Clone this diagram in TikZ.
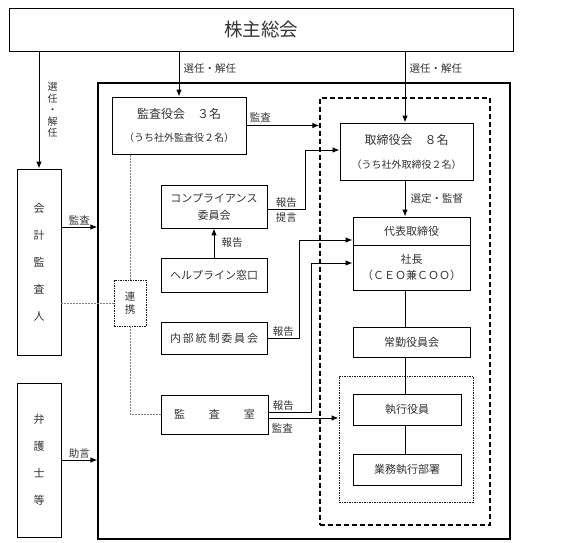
\documentclass[tikz,border=0pt]{standalone}
\usepackage{fontspec}
\setmainfont{Noto Sans CJK JP}
\usetikzlibrary{arrows.meta}
\definecolor{txt}{gray}{0.2}

\begin{document}
\begin{tikzpicture}[x=1pt,y=-1pt,>={Latex[length=7pt,width=5.5pt]},
  box/.style={draw,line width=0.8pt,inner sep=0pt,align=center,text=txt,font=\fontsize{11}{14}\selectfont},
  lab/.style={inner sep=1pt,text=txt,font=\fontsize{10.5}{12}\selectfont},
  arr/.style={->,line width=1pt},
  link/.style={draw=gray,line width=0.6pt,dash pattern=on 2pt off 1pt}]
\useasboundingbox (0,0) rectangle (562,543);
\coordinate (vline) at (405,0);
\node[box,minimum width=504pt,minimum height=43pt,font=\fontsize{18.5}{20}\selectfont] (soukai) at (261,29.5) {株主総会};
\node[draw,line width=1.2pt,minimum width=412pt,minimum height=456pt] (gaibu) at (304,311) {};
\node[draw,line width=1.2pt,dash pattern=on 5pt off 3pt,minimum width=170pt,minimum height=427pt] (board) at (405,311.5) {};
\node[draw,line width=0.8pt,draw=black!90,dash pattern=on 1.5pt off 1pt,minimum width=134pt,minimum height=126pt] (shikkou) at (406,439) {};
\node[box,minimum width=134pt,minimum height=57pt,font=\fontsize{12}{23}\selectfont] (kansayaku) at (179,125.5) {監査役会　３名\\{\fontsize{10}{12}\selectfont （うち社外監査役２名）}};
\node[box,minimum width=133pt,minimum height=57pt,font=\fontsize{12}{24}\selectfont] (torishimari) at (406.5,151.5) {取締役会　８名\\{\fontsize{10}{12}\selectfont （うち社外取締役２名）}};
\node[box,minimum width=117pt,minimum height=28pt] (daihyo) at (411.5,231) {代表取締役};
\node[box,minimum width=117pt,minimum height=45pt,font=\fontsize{11}{16}\selectfont] (shacho) at (411.5,267.5) {社長\\（ＣＥＯ兼ＣＯＯ）};
\node[box,minimum width=117pt,minimum height=30pt] (joukin) at (411.5,342) {常勤役員会};
\node[box,minimum width=108pt,minimum height=31pt] (shikko) at (407,409.5) {執行役員};
\node[box,minimum width=108pt,minimum height=31pt] (gyomu) at (407,469.5) {業務執行部署};
\node[box,minimum width=106pt,minimum height=43pt,font=\fontsize{11}{17}\selectfont] (compliance) at (214,206.5) {コンプライアンス\\委員会};
\node[box,minimum width=106pt,minimum height=34pt] (helpline) at (214,275) {ヘルプライン窓口};
\node[box,minimum width=106pt,minimum height=32pt] (naibu) at (214,338) {内\,部\,統\,制\,委\,員\,会};
\node[box,minimum width=107pt,minimum height=39pt] (kansashitsu) at (214.5,414.5) {監\hspace{24pt}査\hspace{24pt}室};
\node[box,minimum width=44pt,minimum height=186pt,font=\fontsize{11}{27}\selectfont] (kaikei) at (39,262) {会\\計\\監\\査\\人};
\node[box,minimum width=44pt,minimum height=154pt,font=\fontsize{11}{27}\selectfont] (bengoshi) at (39,460) {弁\\護\\士\\等};
\node[box,draw=black!90,dash pattern=on 1.5pt off 1pt,minimum width=32pt,minimum height=46pt,font=\fontsize{10.5}{12.5}\selectfont] (renkei) at (130,303) {連\\携};
\draw[arr] (soukai.south -| kaikei) -- (kaikei.north) node[lab,midway,right=7pt,align=center,font=\fontsize{10}{11.5}\selectfont]{選\\任\\・\\解\\任};
\draw[arr] (soukai.south -| kansayaku) -- (kansayaku.north) node[lab,pos=0.37,right=3pt]{選任・解任};
\draw[arr] (soukai.south -| vline) -- (torishimari.north -| vline) node[lab,pos=0.24,right=3pt]{選任・解任};
\draw[arr] (kansayaku.east) -- (kansayaku.east -| board.west) node[lab,pos=0,anchor=south west,xshift=2pt,yshift=2pt]{監査};
\draw[arr] ([yshift=-2.5pt]compliance.east) -- node[lab,above]{報告} node[lab,below=2pt]{提言} ++(38,0) |- ([yshift=1.5pt]torishimari.west);
\draw[arr] (helpline.north) -- (compliance.south) node[lab,midway,right=6pt]{報告};
\draw[arr] (naibu.east) -- node[lab,above]{報告} ++(32,0) |- ([yshift=-9pt]daihyo.west);
\draw[arr] ([yshift=2.5pt]kansashitsu.east) -- node[lab,above,pos=0.35]{報告} ++(43,0) |- ([yshift=4.5pt]shacho.west);
\coordinate (ks2) at ([yshift=-3.5pt]kansashitsu.east);
\draw[arr] (ks2) -- (ks2 -| shikkou.west) node[lab,pos=0,anchor=north west,xshift=2pt,yshift=-4pt]{監査};
\coordinate (kk) at ([yshift=35pt]kaikei.east);
\draw[arr] (kk) -- (kk -| gaibu.west) node[lab,midway,above]{監査};
\draw[arr] (bengoshi.east) -- (bengoshi.east -| gaibu.west) node[lab,midway,above]{助言};
\draw[arr] (torishimari.south -| vline) -- (daihyo.north -| vline) node[lab,midway,right=4pt]{選定・監督};
\draw[line width=0.8pt] (shacho.south -| vline) -- (joukin.north -| vline) (joukin.south -| vline) -- (shikko.north -| vline) (shikko.south -| vline) -- (gyomu.north -| vline);
\draw[link] (renkei.west -| kaikei.east) -- (renkei.west);
\draw[link] (renkei.north) -- (renkei.north |- kansayaku.south);
\draw[link] (renkei.south) |- (kansashitsu.west);
\end{tikzpicture}
\end{document}
